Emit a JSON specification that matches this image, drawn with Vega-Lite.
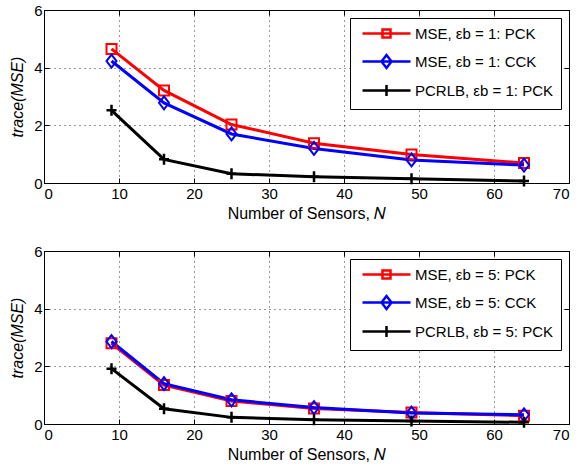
{
  "$schema": "https://vega.github.io/schema/vega-lite/v6.json",
  "padding": {"left": 9, "top": 2, "right": 3, "bottom": 2},
  "spacing": 21,
  "background": "white",
  "config": {
    "font": "Liberation Sans",
    "view": {"stroke": "black", "strokeWidth": 1},
    "axis": {
      "labelFont": "Liberation Sans",
      "labelFontSize": 15,
      "labelColor": "black",
      "titleFont": "Liberation Sans",
      "titleFontSize": 16,
      "titleFontWeight": "normal",
      "titleColor": "black",
      "domainColor": "black",
      "tickColor": "black",
      "tickSize": -5,
      "labelPadding": 8,
      "gridColor": "black",
      "gridDash": [1, 4],
      "gridOpacity": 0.8
    },
    "legend": {
      "title": null,
      "orient": "top-right",
      "offset": 8,
      "strokeColor": "black",
      "fillColor": "white",
      "padding": 8,
      "symbolSize": 100,
      "labelOffset": 42,
      "labelFont": "Liberation Sans",
      "labelFontSize": 15,
      "labelColor": "black",
      "rowPadding": 7,
      "symbolStrokeWidth": 2.5
    }
  },
  "datasets": {
    "eb1": [
      {"series": "MSE, εb = 1: PCK", "N": 9, "trace": 4.65},
      {"series": "MSE, εb = 1: PCK", "N": 16, "trace": 3.21},
      {"series": "MSE, εb = 1: PCK", "N": 25, "trace": 2.03},
      {"series": "MSE, εb = 1: PCK", "N": 36, "trace": 1.38},
      {"series": "MSE, εb = 1: PCK", "N": 49, "trace": 0.99},
      {"series": "MSE, εb = 1: PCK", "N": 64, "trace": 0.69},
      {"series": "MSE, εb = 1: CCK", "N": 9, "trace": 4.23},
      {"series": "MSE, εb = 1: CCK", "N": 16, "trace": 2.78},
      {"series": "MSE, εb = 1: CCK", "N": 25, "trace": 1.7},
      {"series": "MSE, εb = 1: CCK", "N": 36, "trace": 1.2},
      {"series": "MSE, εb = 1: CCK", "N": 49, "trace": 0.8},
      {"series": "MSE, εb = 1: CCK", "N": 64, "trace": 0.62},
      {"series": "PCRLB, εb = 1: PCK", "N": 9, "trace": 2.52},
      {"series": "PCRLB, εb = 1: PCK", "N": 16, "trace": 0.82},
      {"series": "PCRLB, εb = 1: PCK", "N": 25, "trace": 0.32},
      {"series": "PCRLB, εb = 1: PCK", "N": 36, "trace": 0.22},
      {"series": "PCRLB, εb = 1: PCK", "N": 49, "trace": 0.15},
      {"series": "PCRLB, εb = 1: PCK", "N": 64, "trace": 0.07}
    ],
    "eb5": [
      {"series": "MSE, εb = 5: PCK", "N": 9, "trace": 2.8},
      {"series": "MSE, εb = 5: PCK", "N": 16, "trace": 1.35},
      {"series": "MSE, εb = 5: PCK", "N": 25, "trace": 0.8},
      {"series": "MSE, εb = 5: PCK", "N": 36, "trace": 0.54},
      {"series": "MSE, εb = 5: PCK", "N": 49, "trace": 0.4},
      {"series": "MSE, εb = 5: PCK", "N": 64, "trace": 0.29},
      {"series": "MSE, εb = 5: CCK", "N": 9, "trace": 2.86},
      {"series": "MSE, εb = 5: CCK", "N": 16, "trace": 1.4},
      {"series": "MSE, εb = 5: CCK", "N": 25, "trace": 0.84},
      {"series": "MSE, εb = 5: CCK", "N": 36, "trace": 0.57},
      {"series": "MSE, εb = 5: CCK", "N": 49, "trace": 0.38},
      {"series": "MSE, εb = 5: CCK", "N": 64, "trace": 0.32},
      {"series": "PCRLB, εb = 5: PCK", "N": 9, "trace": 1.92},
      {"series": "PCRLB, εb = 5: PCK", "N": 16, "trace": 0.53},
      {"series": "PCRLB, εb = 5: PCK", "N": 25, "trace": 0.23},
      {"series": "PCRLB, εb = 5: PCK", "N": 36, "trace": 0.15},
      {"series": "PCRLB, εb = 5: PCK", "N": 49, "trace": 0.1},
      {"series": "PCRLB, εb = 5: PCK", "N": 64, "trace": 0.06}
    ]
  },
  "vconcat": [
    {
      "width": 525,
      "height": 173,
      "data": {"name": "eb1"},
      "encoding": {
        "x": {"field": "N", "type": "quantitative", "scale": {"domain": [0, 70], "nice": false}},
        "y": {"field": "trace", "type": "quantitative", "scale": {"domain": [0, 6], "nice": false}},
        "color": {"field": "series", "type": "nominal",
                  "scale": {"domain": ["MSE, εb = 1: PCK", "MSE, εb = 1: CCK", "PCRLB, εb = 1: PCK"], "range": ["#ff0000", "#0000ff", "#000000"]}}
      },
      "layer": [
        {
          "mark": {"type": "line", "strokeWidth": 3},
          "encoding": {
            "x": {"field": "N", "type": "quantitative",
                  "axis": {"title": "Number of Sensors, 𝑁", "values": [0, 10, 20, 30, 40, 50, 60, 70], "grid": true, "titlePadding": 4}},
            "y": {"field": "trace", "type": "quantitative",
                  "axis": {"title": "trace(MSE)", "titleFontStyle": "italic", "values": [0, 2, 4, 6], "grid": true, "labelPadding": 7, "titlePadding": 8}},
            "color": {"field": "series", "type": "nominal",
                      "legend": {"encode": {"symbols": {"update": {
                        "shape": {"signal": "indexof(datum.value, 'CCK') >= 0 ? 'M-0.6,0H9M4.2,-1.3L5.2,0L4.2,1.3L3.2,0Z' : indexof(datum.value, 'PCRLB') >= 0 ? 'M-0.6,0H9M4.2,-1.1V1.1' : 'M-0.6,0H9M3.4,-0.8H5V0.8H3.4Z'"},
                        "fill": {"value": "transparent"},
                        "strokeWidth": {"value": 2.5}}}}}}
          }
        },
        {
          "transform": [{"filter": "datum.series == 'MSE, εb = 1: PCK'"}],
          "mark": {"type": "point", "shape": "M-1,-1H1V1H-1Z", "filled": false, "strokeWidth": 2, "size": 100, "opacity": 1},
          "encoding": {
            "x": {"field": "N", "type": "quantitative",
                  "axis": {"orient": "top", "title": null, "labels": false, "grid": false, "values": [0, 10, 20, 30, 40, 50, 60, 70]}},
            "y": {"field": "trace", "type": "quantitative",
                  "axis": {"orient": "right", "title": null, "labels": false, "grid": false, "values": [0, 2, 4, 6]}}
          }
        },
        {
          "transform": [{"filter": "datum.series == 'MSE, εb = 1: CCK'"}],
          "mark": {"type": "point", "shape": "M0,-1.3L1,0L0,1.3L-1,0Z", "filled": false, "strokeWidth": 2, "size": 100, "opacity": 1},
          "encoding": {
            "x": {"field": "N", "type": "quantitative", "axis": null},
            "y": {"field": "trace", "type": "quantitative", "axis": null}
          }
        },
        {
          "transform": [{"filter": "datum.series == 'PCRLB, εb = 1: PCK'"}],
          "mark": {"type": "point", "shape": "M-1,0H1M0,-1.1V1.1", "filled": false, "strokeWidth": 2.5, "size": 100, "opacity": 1},
          "encoding": {
            "x": {"field": "N", "type": "quantitative", "axis": null},
            "y": {"field": "trace", "type": "quantitative", "axis": null}
          }
        }
      ],
      "resolve": {"axis": {"x": "independent", "y": "independent"}}
    },
    {
      "width": 525,
      "height": 173,
      "data": {"name": "eb5"},
      "encoding": {
        "x": {"field": "N", "type": "quantitative", "scale": {"domain": [0, 70], "nice": false}},
        "y": {"field": "trace", "type": "quantitative", "scale": {"domain": [0, 6], "nice": false}},
        "color": {"field": "series", "type": "nominal",
                  "scale": {"domain": ["MSE, εb = 5: PCK", "MSE, εb = 5: CCK", "PCRLB, εb = 5: PCK"], "range": ["#ff0000", "#0000ff", "#000000"]}}
      },
      "layer": [
        {
          "mark": {"type": "line", "strokeWidth": 3},
          "encoding": {
            "x": {"field": "N", "type": "quantitative",
                  "axis": {"title": "Number of Sensors, 𝑁", "values": [0, 10, 20, 30, 40, 50, 60, 70], "grid": true, "titlePadding": 4}},
            "y": {"field": "trace", "type": "quantitative",
                  "axis": {"title": "trace(MSE)", "titleFontStyle": "italic", "values": [0, 2, 4, 6], "grid": true, "labelPadding": 7, "titlePadding": 8}},
            "color": {"field": "series", "type": "nominal",
                      "legend": {"encode": {"symbols": {"update": {
                        "shape": {"signal": "indexof(datum.value, 'CCK') >= 0 ? 'M-0.6,0H9M4.2,-1.3L5.2,0L4.2,1.3L3.2,0Z' : indexof(datum.value, 'PCRLB') >= 0 ? 'M-0.6,0H9M4.2,-1.1V1.1' : 'M-0.6,0H9M3.4,-0.8H5V0.8H3.4Z'"},
                        "fill": {"value": "transparent"},
                        "strokeWidth": {"value": 2.5}}}}}}
          }
        },
        {
          "transform": [{"filter": "datum.series == 'MSE, εb = 5: PCK'"}],
          "mark": {"type": "point", "shape": "M-1,-1H1V1H-1Z", "filled": false, "strokeWidth": 2, "size": 100, "opacity": 1},
          "encoding": {
            "x": {"field": "N", "type": "quantitative",
                  "axis": {"orient": "top", "title": null, "labels": false, "grid": false, "values": [0, 10, 20, 30, 40, 50, 60, 70]}},
            "y": {"field": "trace", "type": "quantitative",
                  "axis": {"orient": "right", "title": null, "labels": false, "grid": false, "values": [0, 2, 4, 6]}}
          }
        },
        {
          "transform": [{"filter": "datum.series == 'MSE, εb = 5: CCK'"}],
          "mark": {"type": "point", "shape": "M0,-1.3L1,0L0,1.3L-1,0Z", "filled": false, "strokeWidth": 2, "size": 100, "opacity": 1},
          "encoding": {
            "x": {"field": "N", "type": "quantitative", "axis": null},
            "y": {"field": "trace", "type": "quantitative", "axis": null}
          }
        },
        {
          "transform": [{"filter": "datum.series == 'PCRLB, εb = 5: PCK'"}],
          "mark": {"type": "point", "shape": "M-1,0H1M0,-1.1V1.1", "filled": false, "strokeWidth": 2.5, "size": 100, "opacity": 1},
          "encoding": {
            "x": {"field": "N", "type": "quantitative", "axis": null},
            "y": {"field": "trace", "type": "quantitative", "axis": null}
          }
        }
      ],
      "resolve": {"axis": {"x": "independent", "y": "independent"}}
    }
  ],
  "resolve": {"scale": {"color": "independent"}}
}
